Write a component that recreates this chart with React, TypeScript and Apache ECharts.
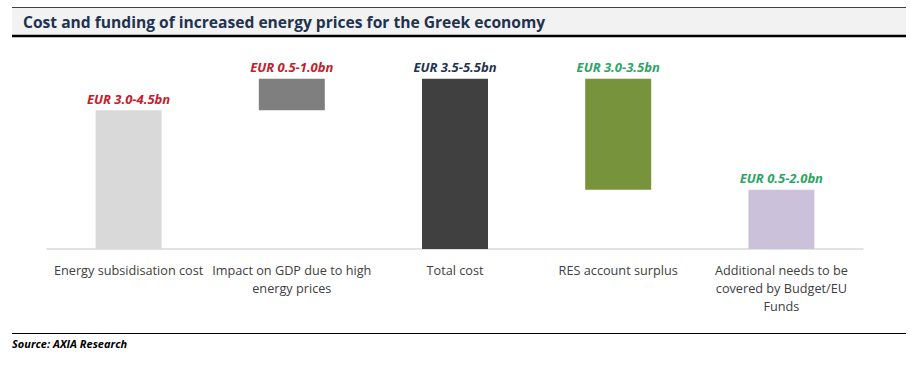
import React, { useEffect, useRef } from "react";
import * as echarts from "echarts";

const categories = [
  "Energy subsidisation cost",
  "Impact on GDP due to high\nenergy prices",
  "Total cost",
  "RES account surplus",
  "Additional needs to be\ncovered by Budget/EU\nFunds",
];
const baseValues = [0, 3.75, 0, 1.6, 0];
const barValues = [3.75, 0.85, 4.6, 3.0, 1.6];
const rangeLabels = ["EUR 3.0-4.5bn", "EUR 0.5-1.0bn", "EUR 3.5-5.5bn", "EUR 3.0-3.5bn", "EUR 0.5-2.0bn"];
const barColors = ["#d9d9d9", "#7f7f7f", "#404040", "#77933c", "#ccc1da"];
const labelColors = ["#c0202a", "#c0202a", "#1f3350", "#2aa566", "#2aa566"];

const FONT = "Open Sans";

export default function App() {
  const ref = useRef<HTMLDivElement>(null);
  useEffect(() => {
    if (!ref.current) return;
    const chart = echarts.init(ref.current, undefined, { renderer: "svg" });
    chart.setOption({
      animation: false,
      backgroundColor: "#ffffff",
      grid: { left: 47, right: 47, top: 64, bottom: 119 },
      xAxis: {
        type: "category",
        data: categories,
        axisLine: { lineStyle: { color: "#d9d9d9", width: 1.5 } },
        axisTick: { show: false },
        axisLabel: {
          color: "#404040",
          fontFamily: FONT,
          fontSize: 12.7,
          lineHeight: 18,
          margin: 12,
          interval: 0,
        },
      },
      yAxis: {
        type: "value",
        min: 0,
        max: 5,
        show: false,
        splitLine: { show: false },
      },
      series: [
        {
          type: "bar",
          stack: "w",
          data: baseValues,
          itemStyle: { color: "transparent" },
          barWidth: 66,
          silent: true,
        },
        {
          type: "bar",
          stack: "w",
          barWidth: 66,
          data: barValues.map((v, i) => ({
            value: v,
            itemStyle: { color: barColors[i] },
            label: {
              show: true,
              position: "top",
              distance: 5,
              formatter: rangeLabels[i],
              color: labelColors[i],
              fontFamily: FONT,
              fontWeight: "bold",
              fontStyle: "italic",
              fontSize: 13,
            },
          })),
        },
      ],
      graphic: [
        { type: "rect", shape: { x: 12, y: 8, width: 894, height: 27 }, style: { fill: "#f2f2f2" } },
        { type: "line", shape: { x1: 12, y1: 7.5, x2: 906, y2: 7.5 }, style: { stroke: "#404040", lineWidth: 1 } },
        { type: "line", shape: { x1: 12, y1: 36, x2: 906, y2: 36 }, style: { stroke: "#000000", lineWidth: 2.5 } },
        {
          type: "text",
          x: 23,
          y: 22,
          style: {
            text: "Cost and funding of increased energy prices for the Greek economy",
            fill: "#1f3350",
            font: `bold 15.6px "${FONT}"`,
            verticalAlign: "middle",
          },
        },
        { type: "line", shape: { x1: 12, y1: 333.5, x2: 906, y2: 333.5 }, style: { stroke: "#000000", lineWidth: 1 } },
        {
          type: "text",
          x: 12,
          y: 343,
          style: {
            text: "Source: AXIA Research",
            fill: "#000000",
            font: `italic bold 11px "${FONT}"`,
            verticalAlign: "middle",
          },
        },
      ],
    });
    return () => chart.dispose();
  }, []);
  return <div ref={ref} style={{ position: "fixed", left: 0, top: 0, width: 910, height: 368 }} />;
}
